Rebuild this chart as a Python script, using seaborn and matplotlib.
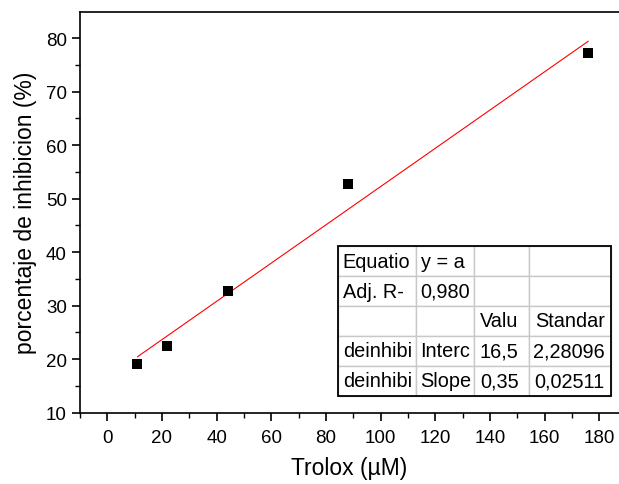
import matplotlib
matplotlib.use("Agg")
from matplotlib import pyplot as plt
from matplotlib.ticker import MultipleLocator
import pandas as pd
import seaborn as sns

# data
trolox = [11, 22, 44, 88, 176]
inhibicion = [19.1, 22.5, 32.8, 52.8, 77.2]

tabla = [
    ["Equatio", "y = a", "", ""],
    ["Adj. R-", "0,980", "", ""],
    ["", "", "Valu", "Standar"],
    ["deinhibi", "Interc", "16,5", "2,28096"],
    ["deinhibi", "Slope", "0,35", "0,02511"],
]
col_w = [77.4, 58.3, 55.3, 82.4]
pad_px = [4.5, 5.0, 10.5, 6.5]

sns.set_theme(style="ticks")
plt.rcParams['font.family'] = ['Liberation Sans', 'DejaVu Sans']
for k in ['text.color', 'axes.labelcolor', 'xtick.color', 'ytick.color', 'axes.edgecolor']:
    plt.rcParams[k] = 'black'

df = pd.DataFrame({'x': trolox, 'y': inhibicion})

fig = plt.figure(figsize=(6.19, 4.85), dpi=100)
ax = fig.add_axes([80 / 619, (485 - 413.5) / 485, 539 / 619, 400.5 / 485])

sns.regplot(data=df, x='x', y='y', ax=ax, ci=None, truncate=True,
            marker='s', color='black',
            scatter_kws={'s': 48, 'linewidths': 0, 'color': 'black', 'alpha': 1, 'zorder': 3},
            line_kws={'color': 'red', 'lw': 0.8, 'zorder': 2})

ax.set_xlim(-10, 187.2)
ax.set_ylim(10, 84.9)
ax.xaxis.set_major_locator(MultipleLocator(20))
ax.xaxis.set_minor_locator(MultipleLocator(10))
ax.yaxis.set_major_locator(MultipleLocator(10))
ax.yaxis.set_minor_locator(MultipleLocator(5))
ax.tick_params(which='major', length=6, width=1.2, labelsize=13.5, direction='out')
ax.tick_params(which='minor', length=3.5, width=1.0, direction='out')
ax.tick_params(axis='x', pad=6)
ax.set_xticks([t for t in range(0, 181, 20)])
ax.set_xlabel('Trolox (µM)', fontsize=16.5, labelpad=7)
ax.set_ylabel('porcentaje de inhibicion (%)', fontsize=16.5, labelpad=6)
ax.spines['right'].set_visible(False)
for s in ['left', 'bottom', 'top']:
    ax.spines[s].set_linewidth(1.2)

tot = sum(col_w)
tb = ax.table(cellText=tabla, colWidths=[w / tot for w in col_w],
              bbox=[0.479, 0.042, 0.507, 0.373], zorder=5)
tb.auto_set_font_size(False)
for (r, c), cell in tb.get_celld().items():
    cell.set_edgecolor('#c8c8c8')
    cell.set_linewidth(1.0)
    cell.set_facecolor('white')
    cell.get_text().set_fontsize(14.3)
    cell.PAD = pad_px[c] / col_w[c]
    cell.set_text_props(ha='right' if c >= 2 else 'left')
    cell._loc = 'right' if c >= 2 else 'left'
rect = plt.Rectangle((0.479, 0.042), 0.507, 0.373, transform=ax.transAxes,
                     fill=False, edgecolor='black', lw=1.3, zorder=6)
ax.add_patch(rect)

fig.savefig('out.png', dpi=100)
